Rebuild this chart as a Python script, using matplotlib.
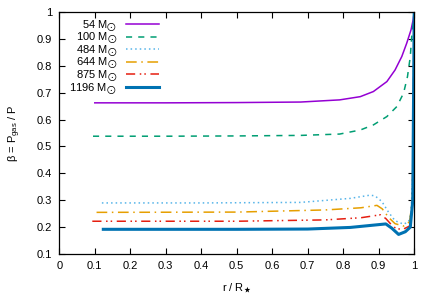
import numpy as np
import matplotlib.pyplot as plt
from matplotlib.ticker import MultipleLocator, FormatStrFormatter

plt.rcParams['font.family'] = ['Liberation Sans', 'DejaVu Sans']
plt.rcParams['mathtext.fontset'] = 'custom'
plt.rcParams['mathtext.rm'] = 'Liberation Sans'
plt.rcParams['mathtext.it'] = 'Liberation Sans'
plt.rcParams['mathtext.fallback'] = 'stixsans'

# values
labels = [r'54 M$_{\bigodot}$', r'100 M$_{\bigodot}$', r'484 M$_{\bigodot}$',
          r'644 M$_{\bigodot}$', r'875 M$_{\bigodot}$', r'1196 M$_{\bigodot}$']

r_54 = [0.10, 0.30, 0.50, 0.68, 0.79, 0.848, 0.885, 0.923, 0.946, 0.965, 0.979, 0.991, 0.997, 1.0]
b_54 = [0.662, 0.662, 0.663, 0.665, 0.673, 0.685, 0.704, 0.741, 0.784, 0.834, 0.884, 0.933, 0.97, 1.0]

r_100 = [0.095, 0.30, 0.50, 0.68, 0.79, 0.848, 0.885, 0.923, 0.951, 0.970, 0.981, 0.989, 0.993, 0.997, 1.0]
b_100 = [0.538, 0.538, 0.539, 0.541, 0.546, 0.561, 0.58, 0.611, 0.648, 0.698, 0.759, 0.834, 0.908, 0.96, 1.0]

r_484 = [0.12, 0.40, 0.68, 0.82, 0.876, 0.89, 0.909, 0.928, 0.946, 0.970, 0.984, 0.991, 0.996, 1.0]
b_484 = [0.29, 0.29, 0.292, 0.307, 0.319, 0.316, 0.295, 0.255, 0.224, 0.211, 0.22, 0.251, 0.4, 1.0]

r_644 = [0.105, 0.50, 0.75, 0.85, 0.895, 0.91, 0.928, 0.946, 0.970, 0.987, 0.995, 1.0]
b_644 = [0.255, 0.256, 0.264, 0.272, 0.281, 0.268, 0.236, 0.213, 0.204, 0.22, 0.3, 1.0]

r_875 = [0.093, 0.50, 0.75, 0.85, 0.905, 0.92, 0.942, 0.965, 0.987, 0.995, 1.0]
b_875 = [0.222, 0.222, 0.227, 0.235, 0.246, 0.232, 0.2, 0.19, 0.204, 0.28, 1.0]

r_1196 = [0.124, 0.50, 0.70, 0.82, 0.92, 0.937, 0.956, 0.975, 0.989, 0.996, 1.0]
b_1196 = [0.192, 0.192, 0.193, 0.199, 0.212, 0.196, 0.173, 0.183, 0.2, 0.3, 1.0]

fig = plt.figure(figsize=(4.36, 3.05), dpi=100)
ax = fig.add_axes([0.136, 0.167, 0.814, 0.794])

ax.plot(r_54, b_54, color='#9400d3', lw=1.1, label=labels[0])
ax.plot(r_100, b_100, color='#009e73', lw=1.1, ls=(0, (4, 4)), label=labels[1])
ax.plot(r_484, b_484, color='#56b4e9', lw=1.1, ls=(0, (1, 2)), label=labels[2])
ax.plot(r_644, b_644, color='#e69f00', lw=1.1, ls=(0, (7, 3, 1, 3)), label=labels[3])
ax.plot(r_875, b_875, color='#e51e10', lw=1.1, ls=(0, (6, 3, 1, 2, 1, 3)), label=labels[4])
ax.plot(r_1196, b_1196, color='#0072b2', lw=2.2, label=labels[5])

ax.set_xlim(0, 1)
ax.set_ylim(0.1, 1)
ax.xaxis.set_major_locator(MultipleLocator(0.1))
ax.yaxis.set_major_locator(MultipleLocator(0.1))
ax.xaxis.set_major_formatter(FormatStrFormatter('%g'))
ax.yaxis.set_major_formatter(FormatStrFormatter('%g'))
ax.tick_params(direction='in', top=True, right=True, length=4, width=0.8,
               labelsize=8, pad=5)
for s in ax.spines.values():
    s.set_linewidth(0.9)

ax.set_xlabel(r'r / R$_{★}$', fontsize=8, labelpad=8)
ax.set_ylabel(r'β = P$_{\rm gas}$ / P', fontsize=8, labelpad=10)

leg = ax.legend(loc='upper right', bbox_to_anchor=(0.281, 0.975), frameon=False,
                markerfirst=False, fontsize=8, handlelength=3.0,
                handletextpad=0.8, labelspacing=-0.28, borderaxespad=0.0,
                borderpad=0.0)

fig.savefig('out.png', dpi=100)
